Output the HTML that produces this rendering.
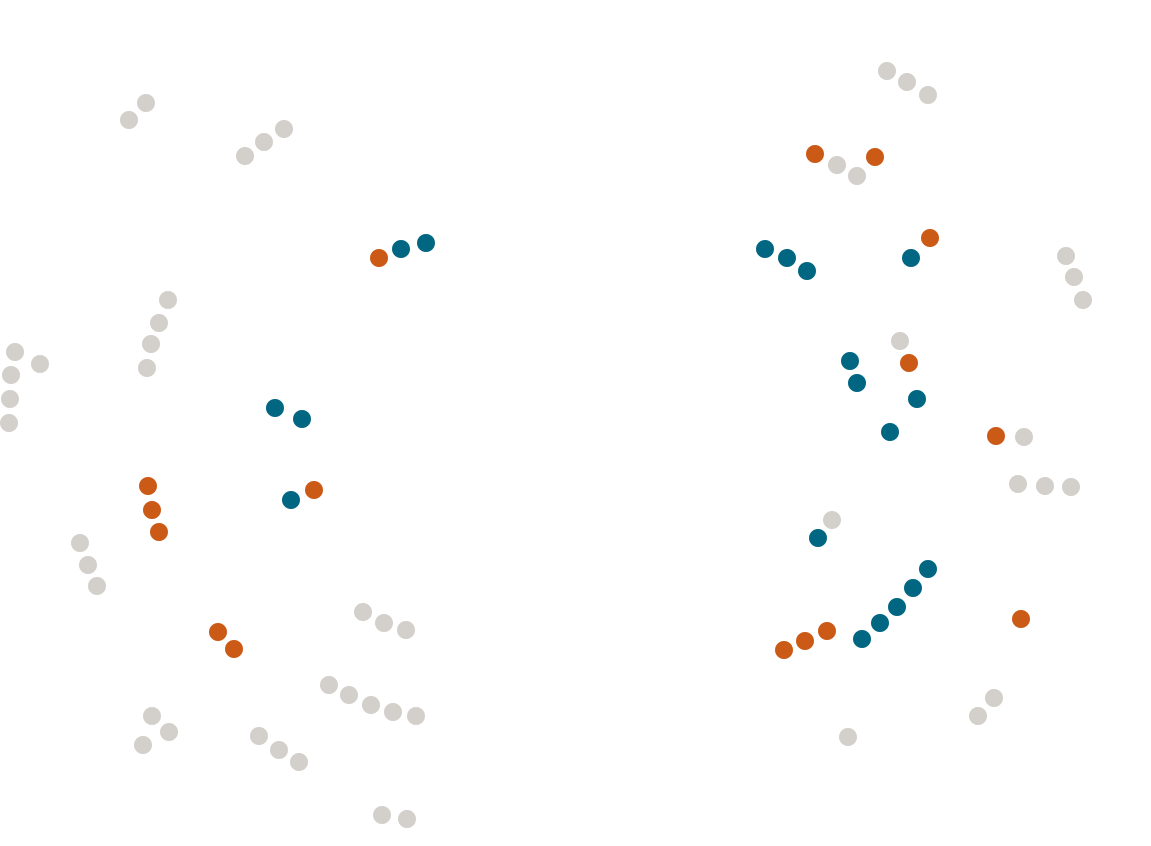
<!DOCTYPE html>
<html>
<head>
<meta charset="utf-8">
<style>
  html,body{margin:0;padding:0;background:#ffffff;}
  svg{display:block;}
</style>
</head>
<body>
<svg id="chart" width="1151" height="846" viewBox="0 0 1151 846" xmlns="http://www.w3.org/2000/svg">
  <rect x="0" y="0" width="1151" height="846" fill="#ffffff"/>
  <g id="marks"></g>
</svg>
<script>
const greyX = [146,129,284,264,245,168,159,151,147,15,11,10,9,40,80,88,97,363,384,406,329,349,371,393,416,152,169,143,259,279,299,382,407,887,907,928,837,857,1066,1074,1083,900,1024,1018,1045,1071,832,994,978,848];
const greyY = [103,120,129,142,156,300,323,344,368,352,375,399,423,364,543,565,586,612,623,630,685,695,705,712,716,716,732,745,736,750,762,815,819,71,82,95,165,176,256,277,300,341,437,484,486,487,520,698,716,737];
const orangeX = [379,148,152,159,314,218,234,815,875,930,909,996,1021,784,805,827];
const orangeY = [258,486,510,532,490,632,649,154,157,238,363,436,619,650,641,631];
const tealX = [401,426,275,302,291,765,787,807,911,850,857,917,890,818,928,913,897,880,862];
const tealY = [249,243,408,419,500,249,258,271,258,361,383,399,432,538,569,588,607,623,639];

const W = 1151, H = 846;
function xScale(v){ return v / 1151 * W; }
function yScale(v){ return v / 846 * H; }

const g = document.getElementById('marks');
const NS = 'http://www.w3.org/2000/svg';
function drawSeries(xs, ys, color, name){
  const grp = document.createElementNS(NS, 'g');
  
  
  g.appendChild(grp);
  for (let i = 0; i < xs.length; i++){
    const c = document.createElementNS(NS, 'circle');
    c.setAttribute('cx', xScale(xs[i]));
    c.setAttribute('cy', yScale(ys[i]));
    c.setAttribute('r', 9);
    c.setAttribute('fill', color);
    
    
    grp.appendChild(c);
  }
}
drawSeries(greyX, greyY, '#d3cfcb', 'grey');
drawSeries(orangeX, orangeY, '#cc5a17', 'orange');
drawSeries(tealX, tealY, '#006681', 'teal');
</script>
</body>
</html>
